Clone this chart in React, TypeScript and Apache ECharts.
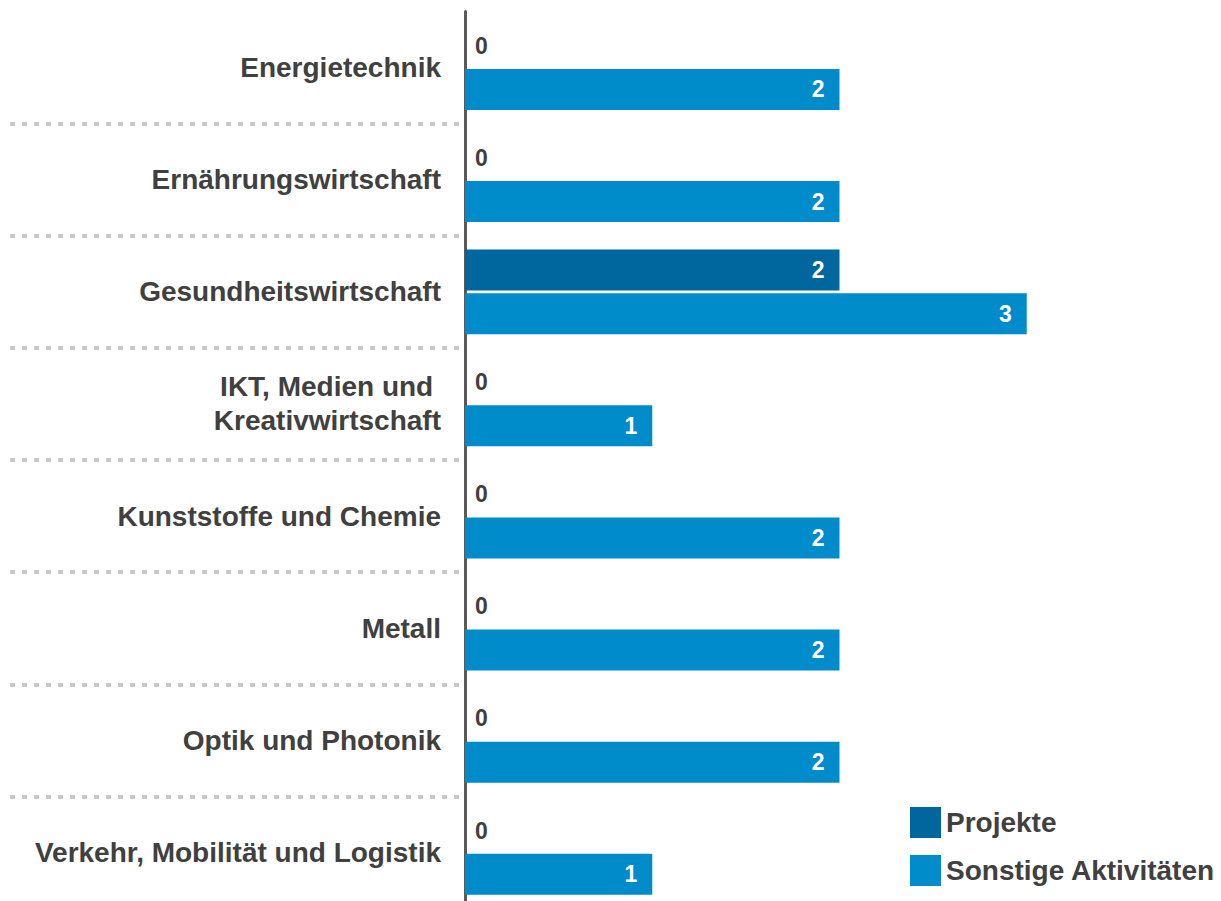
import React, { useEffect, useRef } from "react";
import * as echarts from "echarts";

const categories = [
  "Energietechnik",
  "Ernährungswirtschaft",
  "Gesundheitswirtschaft",
  "IKT, Medien und \nKreativwirtschaft",
  "Kunststoffe und Chemie",
  "Metall",
  "Optik und Photonik",
  "Verkehr, Mobilität und Logistik",
];
const projekte = [0, 0, 2, 0, 0, 0, 0, 0];
const sonstige = [2, 2, 3, 1, 2, 2, 2, 1];
const seriesNames = ["Projekte", "Sonstige Aktivitäten"];
const colors = ["#00669E", "#008BCB"];

const FONT = "'Liberation Sans', Arial, sans-serif";
const TEXT = "#404040";

function toData(values: number[]) {
  return values.map((v) =>
    v === 0
      ? { value: v, label: { position: "right", color: TEXT, distance: 10 } }
      : { value: v }
  );
}

export default function App() {
  const ref = useRef<HTMLDivElement>(null);
  useEffect(() => {
    document.body.style.margin = "0";
    document.body.style.overflow = "hidden";
    document.documentElement.style.overflow = "hidden";
    const chart = echarts.init(ref.current!, undefined, { renderer: "svg" });
    const barLabel = {
      show: true,
      position: "insideRight",
      distance: 15,
      color: "#ffffff",
      fontFamily: FONT,
      fontWeight: "bold",
      fontSize: 23,
    };
    chart.setOption({
      animation: false,
      backgroundColor: "#ffffff",
      textStyle: { fontFamily: FONT },
      legend: {
        orient: "vertical",
        left: 910,
        top: 807,
        padding: 0,
        itemWidth: 31,
        itemHeight: 31,
        itemGap: 17,
        icon: "rect",
        data: seriesNames,
        textStyle: { fontFamily: FONT, fontWeight: "bold", fontSize: 28, color: TEXT },
      },
      grid: [
        { left: 465, top: 11.5, width: 749, height: 897 },
        { left: 10, top: 11.5, width: 450, height: 897 },
      ],
      xAxis: [
        { type: "value", gridIndex: 0, min: 0, max: 4, show: false },
        { type: "value", gridIndex: 1, min: 0, max: 1, show: false },
      ],
      yAxis: [
        {
          type: "category",
          gridIndex: 0,
          inverse: true,
          data: categories,
          axisTick: { show: false },
          axisLine: { show: true, lineStyle: { color: "#595959", width: 3 } },
          splitLine: { show: false },
          axisLabel: {
            margin: 24,
            color: TEXT,
            fontFamily: FONT,
            fontWeight: "bold",
            fontSize: 28,
            lineHeight: 34,
            align: "right",
          },
        },
        {
          type: "category",
          gridIndex: 1,
          inverse: true,
          data: categories,
          axisTick: { show: false },
          axisLine: { show: false },
          axisLabel: { show: false },
          splitLine: {
            show: true,
            interval: (index: number) => index !== 0,
            lineStyle: { color: "#c8c8c8", width: 4, type: [5, 7] },
          },
        },
      ],
      series: [
        {
          name: seriesNames[0],
          type: "bar",
          xAxisIndex: 0,
          yAxisIndex: 0,
          barWidth: 41,
          barGap: "7%",
          itemStyle: { color: colors[0] },
          label: barLabel,
          data: toData(projekte),
        },
        {
          name: seriesNames[1],
          type: "bar",
          xAxisIndex: 0,
          yAxisIndex: 0,
          barWidth: 41,
          barGap: "7%",
          itemStyle: { color: colors[1] },
          label: barLabel,
          data: toData(sonstige),
        },
      ],
    });
    return () => chart.dispose();
  }, []);
  return <div ref={ref} style={{ width: 1221, height: 920 }} />;
}
